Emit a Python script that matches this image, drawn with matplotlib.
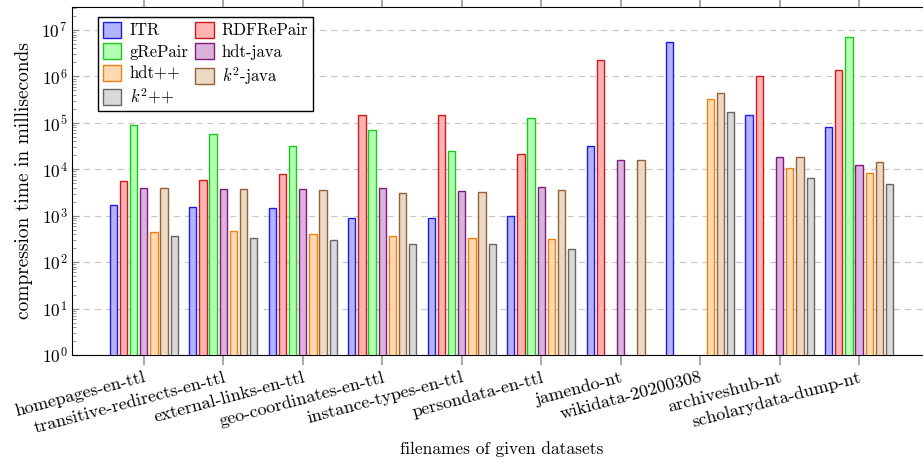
import numpy as np
import matplotlib
matplotlib.use('Agg')
import matplotlib.pyplot as plt
from matplotlib.patches import Patch

plt.rcParams['font.family'] = 'serif'
plt.rcParams['font.serif'] = ['cmr10']
plt.rcParams['mathtext.fontset'] = 'cm'
plt.rcParams['axes.formatter.use_mathtext'] = True

nan = np.nan
datasets = ['homepages-en-ttl', 'transitive-redirects-en-ttl', 'external-links-en-ttl',
            'geo-coordinates-en-ttl', 'instance-types-en-ttl', 'persondata-en-ttl',
            'jamendo-nt', 'wikidata-20200308', 'archiveshub-nt', 'scholarydata-dump-nt']

# compression time in ms (nan = no bar)
itr = [1700, 1540, 1480, 890, 905, 1000, 31600, 5.4e6, 1.5e5, 83000]
rdfrepair = [5600, 5880, 8040, 145000, 150000, 21700, 2.3e6, nan, 1.0e6, 1.35e6]
grepair = [89000, 58000, 32000, 69000, 25000, 127000, nan, nan, nan, 6.9e6]
hdt_java = [4000, 3730, 3730, 3940, 3390, 4150, 15800, nan, 18300, 12600]
hdt_cpp = [445, 460, 395, 370, 335, 313, nan, 3.3e5, 10800, 8500]
k2_java = [3950, 3730, 3620, 3150, 3300, 3560, 15800, 4.5e5, 18000, 14300]
k2_cpp = [370, 335, 297, 252, 245, 190, nan, 1.7e5, 6450, 4800]

series = [
    ('ITR', itr, '#b3b3ff', '#1a1ae6'),
    ('RDFRePair', rdfrepair, '#ffb3b3', '#cc1a1a'),
    ('gRePair', grepair, '#b3ffb3', '#1ac81a'),
    ('hdt-java', hdt_java, '#d9b3d9', '#7f1a80'),
    ('hdt++', hdt_cpp, '#ffd9b3', '#f08010'),
    ('$k^2$-java', k2_java, '#ebd9c6', '#946236'),
    ('$k^2$++', k2_cpp, '#d9d9d9', '#666666'),
]

fig = plt.figure(figsize=(9.23, 4.63), dpi=100)
ax = fig.add_axes([0.0783, 0.2333, 0.93, 0.752])

x = np.arange(len(datasets))
step = 0.128
width = 0.092
handles = {}
for k, (name, vals, fc, ec) in enumerate(series):
    ax.bar(x + (k - 3) * step, vals, width, color=fc, edgecolor=ec, linewidth=1.0, zorder=3)
    handles[name] = Patch(facecolor=fc, edgecolor=ec, linewidth=1.0)

ax.set_yscale('log')
ax.set_ylim(1, 10 ** 7.5)
ax.set_xlim(-0.9, 9.9)
ax.set_yticks([10 ** i for i in range(8)])
ax.grid(axis='y', which='major', linestyle=(0, (5, 4)), color='#c8c8c8', linewidth=0.9, zorder=0)

ax.tick_params(axis='y', which='both', direction='in', left=True, right=False, labelsize=12.5)
ax.tick_params(axis='y', which='major', length=5, color='#888888')
ax.tick_params(axis='y', which='minor', length=3, color='#888888')
ax.tick_params(axis='x', direction='out', top=True, bottom=True, length=7, color='#999999', width=1.2)

ax.set_xticks(x)
ax.set_xticklabels(datasets, rotation=15, ha='right', rotation_mode='anchor', fontsize=13)
ax.set_ylabel('compression time in milliseconds', fontsize=14, labelpad=6)
ax.set_xlabel('filenames of given datasets', fontsize=12.5, labelpad=4)

order = ['ITR', 'gRePair', 'hdt++', '$k^2$++', 'RDFRePair', 'hdt-java', '$k^2$-java']
leg = ax.legend([handles[n] for n in order], order, ncol=2, loc='upper left',
                bbox_to_anchor=(0.03, 0.972), borderaxespad=0, fontsize=12, fancybox=False,
                edgecolor='black', framealpha=1, handlelength=1.1, handleheight=1.1,
                handletextpad=0.5, columnspacing=0.4, borderpad=0.3, labelspacing=0.3)
leg.get_frame().set_linewidth(1.0)

fig.savefig('out.png', dpi=100)
